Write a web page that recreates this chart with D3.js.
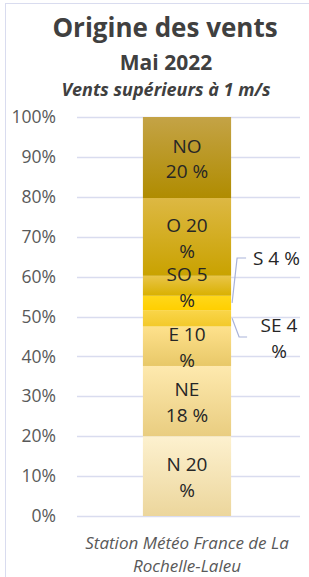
<!DOCTYPE html>
<html>
<head>
<meta charset="utf-8">
<script src="https://cdn.jsdelivr.net/npm/d3@7"></script>
<style>
  body { margin: 0; background: #fff; }
  svg { display: block; font-family: "Segoe UI", "Open Sans", sans-serif; }
</style>
</head>
<body>
<div id="chart"></div>
<script>
"use strict";

// wind directions, stacked from bottom to top
var directions = ["N", "NE", "E", "SE", "S", "SO", "O", "NO"];
var shares = [20.0, 17.6, 9.9, 4.1, 3.6, 5.0, 19.5, 20.3];
// data label text as Excel wrapped it
var labelLines = [["N 20", "%"], ["NE", "18 %"], ["E 10", "%"], ["SE 4", "%"],
                  ["S 4 %"], ["SO 5", "%"], ["O 20", "%"], ["NO", "20 %"]];
var tickValues = [0, 0.1, 0.2, 0.3, 0.4, 0.5, 0.6, 0.7, 0.8, 0.9, 1];

// gradient colours (top, bottom) per segment
var segColors = [["#fdf1cf", "#ecd69c"], ["#fee9ae", "#e9cd80"], ["#fee18c", "#e8c868"],
                 ["#f9d54a", "#f3c92a"], ["#ffd71a", "#ffcf00"], ["#e9c548", "#d9b000"],
                 ["#ddb843", "#c9a200"], ["#c4a346", "#b08c00"]];

var W = 309, H = 577;
var svg = d3.select("#chart").append("svg")
    .attr("width", W)
    .attr("height", H);

// chart border (partly outside the picture)
svg.append("rect")
    .attr("x", 5.5).attr("y", 3.5)
    .attr("width", W + 10).attr("height", H + 10)
    .attr("fill", "none")
    .attr("stroke", "#d9dcef");

// titles
svg.append("text")
    .attr("x", 165).attr("y", 37)
    .attr("text-anchor", "middle")
    .style("font-size", "26px").style("font-weight", "bold")
    .attr("fill", "#404040")
    .text("Origine des vents");
svg.append("text")
    .attr("x", 166).attr("y", 70)
    .attr("text-anchor", "middle")
    .style("font-size", "21px").style("font-weight", "bold")
    .attr("fill", "#404040")
    .text("Mai 2022");
svg.append("text")
    .attr("x", 166).attr("y", 96)
    .attr("text-anchor", "middle")
    .style("font-size", "18px").style("font-weight", "bold").style("font-style", "italic")
    .attr("fill", "#404040")
    .text("Vents supérieurs à 1 m/s");

var x0 = 77, x1 = 300;
var y = d3.scaleLinear().domain([0, 1]).range([516, 117]);
// one band: the station bar, 88px wide
var x = d3.scaleBand().domain(["Station"]).range([75, 299]).paddingInner(0).paddingOuter(0.77);

// grid lines
svg.append("g")
    .selectAll("line")
    .data(tickValues)
    .enter().append("line")
    .attr("x1", x0).attr("x2", x1)
    .attr("y1", function(d) { return Math.round(y(d)) + 0.5; })
    .attr("y2", function(d) { return Math.round(y(d)) + 0.5; })
    .attr("stroke", "#d9dcef")
    .attr("stroke-width", 1.3);

// y axis labels
var yAxis = svg.append("g")
    .attr("transform", "translate(56,0)")
    .call(d3.axisLeft(y).tickValues(tickValues).tickFormat(d3.format(".0%")).tickSize(0).tickPadding(0));
yAxis.select(".domain").remove();
yAxis.selectAll("text")
    .style("font-size", "17.5px")
    .style("font-family", "'Segoe UI', 'Open Sans', sans-serif")
    .attr("fill", "#595959");

// stack
var row = {};
directions.forEach(function(d, i) { row[d] = shares[i] / 100; });
var stacked = d3.stack().keys(directions)([row]);

var defs = svg.append("defs");
stacked.forEach(function(s, i) {
    var g = defs.append("linearGradient")
        .attr("id", "grad" + i)
        .attr("x1", 0).attr("y1", 0).attr("x2", 0).attr("y2", 1);
    g.append("stop").attr("offset", "0%").attr("stop-color", segColors[i][0]);
    g.append("stop").attr("offset", "100%").attr("stop-color", segColors[i][1]);
});

svg.append("g")
    .selectAll("rect")
    .data(stacked)
    .enter().append("rect")
    .attr("x", x("Station"))
    .attr("width", x.bandwidth())
    .attr("y", function(d) { return y(d[0][1]); })
    .attr("height", function(d) { return y(d[0][0]) - y(d[0][1]); })
    .attr("fill", function(d, i) { return "url(#grad" + i + ")"; });

// inside labels
var cx = x("Station") + x.bandwidth() / 2;
var lineH = 25.5;
stacked.forEach(function(s, i) {
    var name = directions[i];
    if (name === "S" || name === "SE") return;
    var mid = (y(s[0][0]) + y(s[0][1])) / 2;
    var lines = labelLines[i];
    var t = svg.append("text")
        .attr("text-anchor", "middle")
        .style("font-size", "19px")
        .attr("fill", "#262626");
    lines.forEach(function(l, j) {
        t.append("tspan")
            .attr("x", cx)
            .attr("y", mid - (lines.length - 1) * lineH / 2 + j * lineH + 8)
            .text(l);
    });
});

// outside labels with leader lines for S and SE
var right = x("Station") + x.bandwidth();
var sIdx = directions.indexOf("S"), seIdx = directions.indexOf("SE");
var sMid = (y(stacked[sIdx][0][0]) + y(stacked[sIdx][0][1])) / 2;
var seMid = (y(stacked[seIdx][0][0]) + y(stacked[seIdx][0][1])) / 2;

svg.append("path")
    .attr("d", "M" + (right + 1) + "," + (sMid) + "L" + (right + 6) + "," + 258 + "L" + (right + 15) + "," + 258)
    .attr("fill", "none").attr("stroke", "#a9b3d9").attr("stroke-width", 1.2);
svg.append("text")
    .attr("x", 253).attr("y", 265)
    .style("font-size", "19px").attr("fill", "#262626")
    .text(labelLines[sIdx][0]);

svg.append("path")
    .attr("d", "M" + (right + 1) + "," + (seMid) + "L" + (right + 8) + "," + 337 + "L" + (right + 16) + "," + 337)
    .attr("fill", "none").attr("stroke", "#a9b3d9").attr("stroke-width", 1.2);
var seText = svg.append("text")
    .attr("text-anchor", "middle")
    .style("font-size", "19px").attr("fill", "#262626");
labelLines[seIdx].forEach(function(l, j) {
    seText.append("tspan").attr("x", 279).attr("y", 332 + j * 26).text(l);
});

// category label
var cat = svg.append("text")
    .attr("text-anchor", "middle")
    .style("font-size", "17px").style("font-style", "italic")
    .attr("fill", "#595959");
cat.append("tspan").attr("x", 187).attr("y", 549).text("Station Météo France de La");
cat.append("tspan").attr("x", 187).attr("y", 572).text("Rochelle-Laleu");
</script>
</body>
</html>
